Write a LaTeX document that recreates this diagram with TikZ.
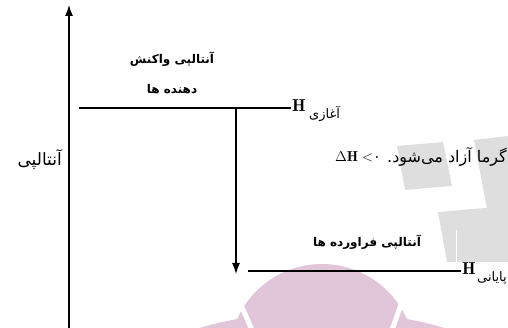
\documentclass[tikz,border=0pt]{standalone}
\usepackage{amsmath, amssymb}
\usepackage{fontspec}
\usepackage{tikz}
\usetikzlibrary{arrows, arrows.meta, positioning, calc}
\TeXXeTstate=1
\newfontfamily\farsi[Script=Arabic]{DejaVu Sans}
\definecolor{logopink}{RGB}{225,197,216}
\tikzset{
	level/.style={draw, line width=1.2pt},
	axis/.style={draw, line width=1.2pt, -{Latex[length=11pt, width=8pt]}},
	title/.style={inner sep=1pt, font=\farsi\bfseries\fontsize{12}{14}\selectfont},
	plain/.style={inner sep=1pt, font=\farsi\fontsize{16}{18}\selectfont},
	axislab/.style={inner sep=1pt, font=\farsi\fontsize{17}{19}\selectfont},
	sub/.style={inner sep=0pt, font=\farsi\fontsize{13}{15}\selectfont},
	hsym/.style={inner sep=1pt, font=\LARGE},
	greymark/.style={fill=black!13, draw=none},
	logo/.style={fill=logopink, draw=none}
}

\begin{document}
\begin{tikzpicture}[x=1pt, y=-1pt]
		\useasboundingbox (0,0) rectangle (508,328);
		
		% Watermark shapes in the background
		\fill[greymark] (397,146) -- (443,142) -- (452,186) -- (405,190) -- cycle;
		\fill[greymark] (474,140) -- (508,136) -- (508,212) -- (488,214) -- cycle;
		\fill[greymark] (438,212) -- (508,206) -- (508,262) -- (447,262) -- cycle;
		\draw[white, line width=1pt] (456,230) -- (456,262);
		\fill[logo] (322,372) ellipse (180 and 60);
		\fill[logo] (322,357) circle (93);
		\draw[white, line width=5pt] (238,298) -- (252,330);
		\draw[white, line width=5pt] (404,296) -- (392,330);
		
		% Enthalpy axis
		\coordinate (axisbot) at (69,330);
		\coordinate (axistop) at (69,5);
		\draw[axis] (axisbot) -- (axistop);
		\node[axislab, anchor=east] (axislabel) at (63,160) {\beginR آنتالپی\endR};
		
		% Level of the reactants
		\node[hsym] (Hstart) at (299,106) {$\mathbf{H}$};
		\node[sub, anchor=west] (substart) at ([xshift=2pt, yshift=-8pt]Hstart.east) {\beginR آغازی\endR};
		\coordinate (startL) at (79,108);
		\draw[level] (startL) -- (Hstart.west |- startL);
		\node[title] (reactants1) at (172,59) {\beginR آنتالپی واکنش\endR};
		\node[title] (reactants2) at (172,89) {\beginR دهنده ها\endR};
		
		% Level of the products
		\node[hsym] (Hend) at (469,269) {$\mathbf{H}$};
		\node[sub, anchor=west] (subend) at ([yshift=-9pt]Hend.east) {\beginR پایانی\endR};
		\coordinate (endL) at (248,271);
		\draw[level] (endL) -- (Hend.west |- endL);
		\node[title] (products) at (367,242) {\beginR آنتالپی فراورده ها\endR};
		
		% Heat released: arrow from the upper level down to the lower one
		\coordinate (drop) at (236,108);
		\coordinate (land) at (236,274);
		\draw[axis] (drop) -- (land);
		\node[plain, anchor=east] (heat) at (508,157) {\beginR گرما آزاد می‌شود.\endR};
		\node[inner sep=1pt, anchor=east, font=\Large] (dH) at ([xshift=-4pt]heat.west) {$\Delta\mathbf{H}<${\farsi ۰}};
		
	\end{tikzpicture}
\end{document}
